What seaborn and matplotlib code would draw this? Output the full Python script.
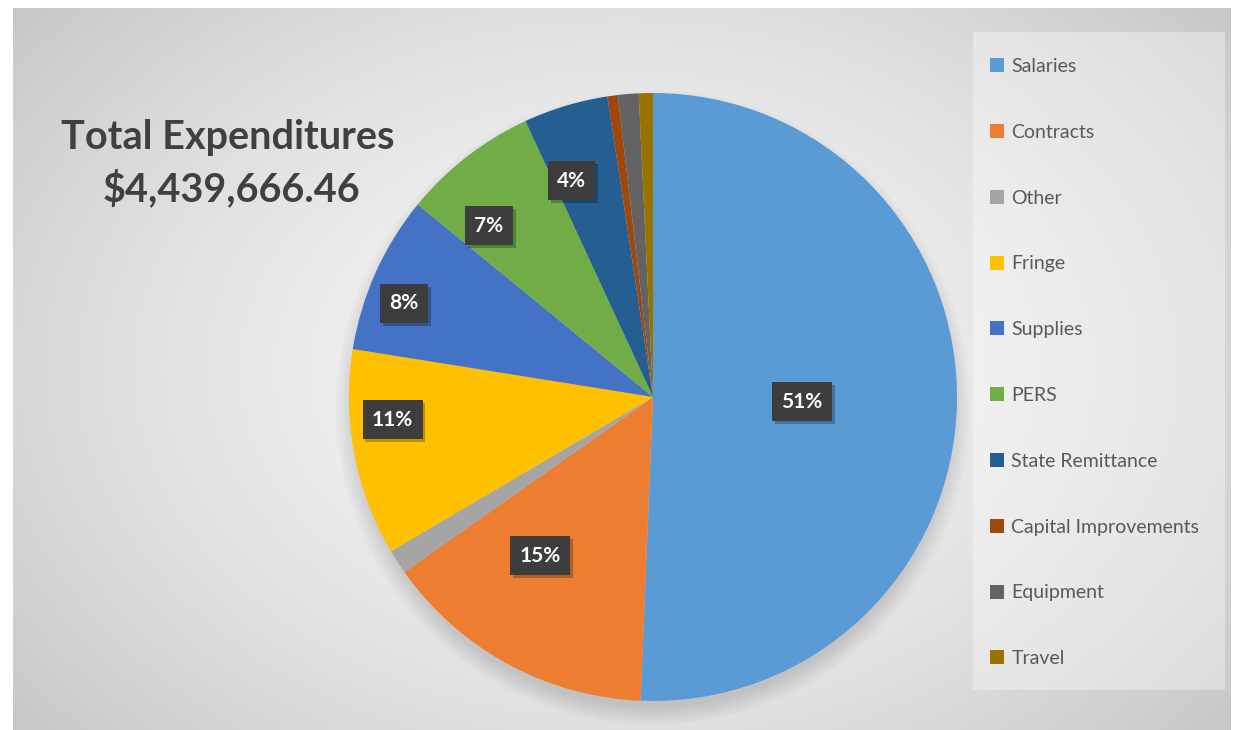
import numpy as np
import matplotlib
matplotlib.use("Agg")
import matplotlib.pyplot as plt
import matplotlib.patheffects as pe
from matplotlib.lines import Line2D
from matplotlib.patches import Rectangle, Circle
import seaborn as sns

# Expenditure categories and their share of the total (percent)
categories = ["Salaries", "Contracts", "Other", "Fringe", "Supplies", "PERS",
              "State Remittance", "Capital Improvements", "Equipment", "Travel"]
shares = [50.7, 14.6, 1.3, 11.0, 8.4, 7.2, 4.5, 0.55, 1.1, 0.75]
slice_labels = ["51%", "15%", "", "11%", "8%", "7%", "4%", "", "", ""]
title_lines = ["Total Expenditures", "$4,439,666.46"]
slice_colors = ["#5B9BD5", "#ED7D31", "#A5A5A5", "#FFC000", "#4472C4",
                "#70AD47", "#255E91", "#9E480E", "#636363", "#997300"]

sns.set_theme(style="white")
plt.rcParams["font.family"] = ["Lato", "DejaVu Sans"]
palette = sns.color_palette(slice_colors)

W, H = 1235, 730
fig = plt.figure(figsize=(W / 100, H / 100), dpi=100, facecolor="white")

# soft radial gradient panel behind everything
bg = fig.add_axes([13 / W, 0, (1231 - 13) / W, (730 - 8) / H])
ny, nx = 361, 609
yy, xx = np.mgrid[0:1:ny * 1j, 0:1:nx * 1j]
d = np.sqrt(((xx - 0.50) / 0.62) ** 2 + ((yy - 0.50) / 0.75) ** 2)
shade = 0.96 - 0.17 * np.clip(d, 0, 1.5) ** 1.6
bg.imshow(shade, cmap="gray", vmin=0, vmax=1, aspect="auto",
          extent=[0, 1, 0, 1], interpolation="bilinear")
bg.set_axis_off()

# pie axes: centre at (653, 397) px from top-left, radius 304 px
cx, cy, R, S = 653, 730 - 397, 304, 720
ax = fig.add_axes([(cx - S / 2) / W, (cy - S / 2) / H, S / W, S / H])
ax.patch.set_alpha(0)

# soft drop shadow under the pie
for i in range(16):
    ax.add_patch(Circle((0.0, -0.035), 0.985 + 0.004 * i, color="black",
                        alpha=0.009, lw=0, zorder=0))

wedges, _ = ax.pie(shares, colors=palette, startangle=90, counterclock=False,
                   radius=1.0, wedgeprops=dict(linewidth=0, zorder=1))
lim = S / 2 / R
ax.set_xlim(-lim, lim)
ax.set_ylim(-lim, lim)
ax.set_aspect("equal")
ax.set_axis_off()

# data labels: radial distance and angular nudge per slice
label_dist = [0.49, 0.64, 0.0, 0.86, 0.875, 0.78, 0.76, 0.0, 0.0, 0.0]
label_nudge = [-0.7, -6.8, 0.0, -5.7, 3.6, 6.0, 3.9, 0.0, 0.0, 0.0]
for w, lbl, r, nudge in zip(wedges, slice_labels, label_dist, label_nudge):
    if not lbl:
        continue
    ang = np.deg2rad((w.theta1 + w.theta2) / 2 + nudge)
    t = ax.text(r * np.cos(ang), r * np.sin(ang), lbl, ha="center", va="center",
                color="white", fontsize=15, fontweight="bold", zorder=5,
                bbox=dict(boxstyle="square,pad=0.45", fc="#3d3d3d", ec="none"))
    t.get_bbox_patch().set_path_effects([
        pe.SimplePatchShadow(offset=(2, -2), shadow_rgbFace="black", alpha=0.25),
        pe.Normal()])

# title block on the left
fig.text(228 / W, 1 - 138 / H, title_lines[0], ha="center", va="center",
         fontsize=28.5, fontweight="bold", color="#404040")
fig.text(232 / W, 1 - 189 / H, title_lines[1], ha="center", va="center",
         fontsize=28.5, fontweight="bold", color="#404040")

# legend panel
fig.add_artist(Rectangle((973 / W, 1 - 690 / H), (1225 - 973) / W, (690 - 32) / H,
                         transform=fig.transFigure, fc="white", alpha=0.35,
                         ec="none", zorder=1))
handles = [Line2D([], [], marker="s", ls="none", markersize=9.5,
                  markerfacecolor=c, markeredgewidth=0) for c in palette]
fig.legend(handles, categories, loc="upper left",
           bbox_to_anchor=(990 / W, 1 - 58 / H), bbox_transform=fig.transFigure,
           frameon=False, fontsize=14, labelspacing=2.51, handlelength=0.75,
           handletextpad=0.35, borderpad=0, borderaxespad=0, labelcolor="#595959")

fig.savefig("out.png", dpi=100, facecolor="white")
